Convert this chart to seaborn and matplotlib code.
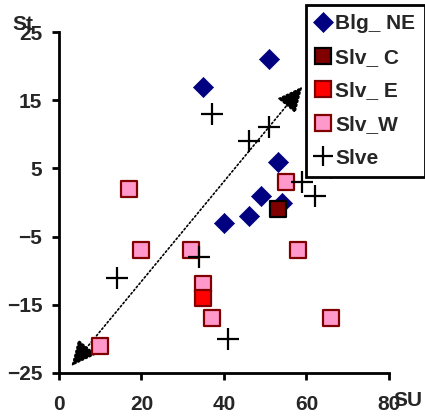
import matplotlib
matplotlib.use("Agg")
import matplotlib.pyplot as plt
import seaborn as sns
import pandas as pd
from matplotlib.lines import Line2D

sns.set_style("white")
plt.rcParams['font.family'] = ['Liberation Sans', 'DejaVu Sans']
plt.rcParams['font.weight'] = 'bold'

# Data
blg_ne_x = [35, 51, 53, 49, 46, 40, 54]
blg_ne_y = [17, 21, 6, 1, -2, -3, 0]
slv_c_x = [53]
slv_c_y = [-1]
slv_e_x = [35]
slv_e_y = [-14]
slv_w_x = [17, 20, 32, 35, 37, 10, 55, 58, 66]
slv_w_y = [2, -7, -7, -12, -17, -21, 3, -7, -17]
slve_x = [37, 51, 46, 66, 59, 62, 14, 34, 41]
slve_y = [13, 11, 9, 5, 3, 1, -11, -8, -20]
series_names = ["Blg_ NE", "Slv_ C", "Slv_ E", "Slv_W", "Slve"]
arrow_start = (3, -24)
arrow_end = (59, 17)
x_ticks = [0, 20, 40, 60, 80]
y_ticks = [-25, -15, -5, 5, 15, 25]

fig = plt.figure(figsize=(4.25, 4.18), dpi=100)
ax = fig.add_axes([0.1388, 0.1077, 0.7765, 0.8157])

styles = {
    "Blg_ NE": dict(marker="D", s=105, color="#000080", edgecolor="#000080", linewidth=0.5),
    "Slv_ C": dict(marker="s", s=130, color="#800000", edgecolor="black", linewidth=1.6),
    "Slv_ E": dict(marker="s", s=130, color="#FF0000", edgecolor="#800000", linewidth=1.6),
    "Slv_W": dict(marker="s", s=130, color="#FF99CC", edgecolor="#800000", linewidth=1.6),
    "Slve": dict(marker="+", s=240, color="black", linewidth=1.6),
}
data = {
    "Blg_ NE": (blg_ne_x, blg_ne_y),
    "Slv_ C": (slv_c_x, slv_c_y),
    "Slv_ E": (slv_e_x, slv_e_y),
    "Slv_W": (slv_w_x, slv_w_y),
    "Slve": (slve_x, slve_y),
}
order = ["Slv_W", "Slv_ E", "Blg_ NE", "Slv_ C", "Slve"]
for name in order:
    xs, ys = data[name]
    df = pd.DataFrame({"x": xs, "y": ys})
    sns.scatterplot(data=df, x="x", y="y", ax=ax, legend=False, zorder=3, **styles[name])

ax.annotate("", xy=arrow_end, xytext=arrow_start,
            arrowprops=dict(arrowstyle="<|-|>,head_length=1.6,head_width=0.75", linestyle=(0, (1, 1.5)),
                            color="black", lw=1.2, shrinkA=0, shrinkB=0), zorder=2)

ax.set_xlim(0, 80)
ax.set_ylim(-25, 25)
ax.set_xticks(x_ticks)
ax.set_yticks(y_ticks)
ax.set_xlabel("")
ax.set_ylabel("")
for side in ["top", "right"]:
    ax.spines[side].set_visible(False)
for side in ["left", "bottom"]:
    ax.spines[side].set_linewidth(2)
    ax.spines[side].set_color("black")
ax.tick_params(axis="both", direction="out", length=5, width=2, color="black",
               labelsize=15, left=True, bottom=True)
ax.tick_params(axis="x", pad=11)
ax.tick_params(axis="y", pad=7)
for lab in ax.get_xticklabels() + ax.get_yticklabels():
    lab.set_fontweight("bold")

fig.text(12 / 425, 1 - 24 / 418, "St", fontsize=15, fontweight="bold", ha="left", va="center")
fig.text(393 / 425, 1 - 401 / 418, "SU", fontsize=15, fontweight="bold", ha="left", va="center")

handles = []
for name in series_names:
    st = styles[name]
    if st["marker"] == "+":
        h = Line2D([], [], marker="+", linestyle="none", color="black", markersize=15, markeredgewidth=1.6)
    else:
        ms = 10 if st["marker"] == "D" else 11
        h = Line2D([], [], marker=st["marker"], linestyle="none", markerfacecolor=st["color"],
                   markeredgecolor=st["edgecolor"], markeredgewidth=st["linewidth"], markersize=ms)
    handles.append(h)
leg = fig.legend(handles, series_names, loc="upper left", bbox_to_anchor=(306 / 425, 1 - 5 / 418),
                 frameon=True, fancybox=False, shadow=False, handlelength=0.7, handletextpad=0.25,
                 labelspacing=0.7, borderpad=0.45, borderaxespad=0, prop=dict(size=15, weight="bold"),
                 framealpha=1)
leg.get_frame().set_edgecolor("black")
leg.get_frame().set_linewidth(2)

fig.savefig("out.png", dpi=100)
